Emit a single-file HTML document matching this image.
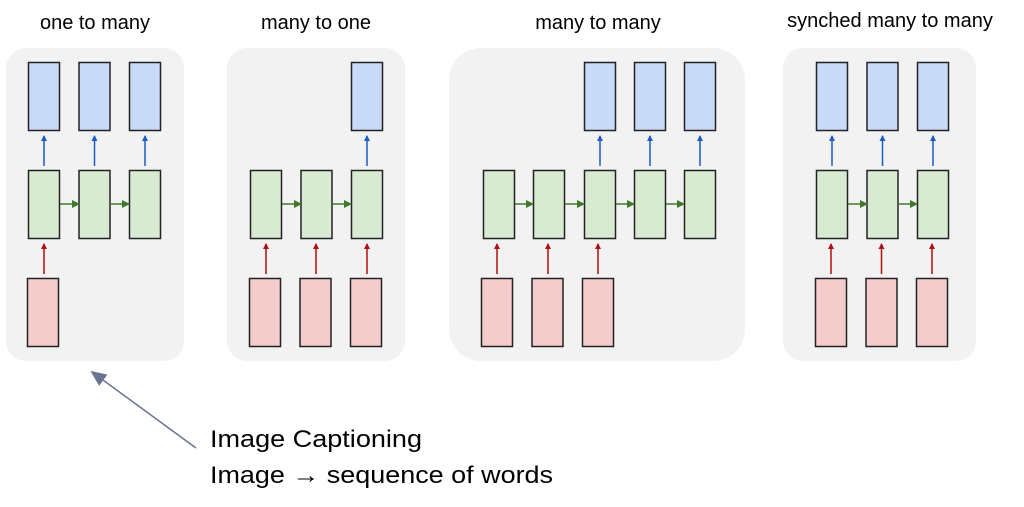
<!DOCTYPE html>
<html><head><meta charset="utf-8"><style>
html,body{margin:0;padding:0;background:#fff;}
svg{display:block;}
</style></head><body>
<svg width="1024" height="507" viewBox="0 0 1024 507" xmlns="http://www.w3.org/2000/svg">
<defs>
<marker id="ab" markerWidth="6" markerHeight="6" refX="5" refY="3" orient="auto" markerUnits="userSpaceOnUse"><path d="M0,0 L6,3 L0,6 z" fill="#1c5bc4"/></marker>
<marker id="ag" markerWidth="8" markerHeight="8" refX="7" refY="4" orient="auto" markerUnits="userSpaceOnUse"><path d="M0,0 L8,4 L0,8 z" fill="#3f7a2a"/></marker>
<marker id="ar" markerWidth="6" markerHeight="6" refX="5" refY="3" orient="auto" markerUnits="userSpaceOnUse"><path d="M0,0 L6,3 L0,6 z" fill="#b01010"/></marker>
<marker id="ap" markerWidth="16" markerHeight="14" refX="14" refY="7" orient="auto" markerUnits="userSpaceOnUse"><path d="M0,0 L16,7 L0,14 z" fill="#6b7394"/></marker>
</defs>
<g font-family="Liberation Sans, sans-serif" font-size="20" fill="#000" text-anchor="middle">
<text x="95" y="29">one to many</text>
<text x="316" y="29">many to one</text>
<text x="598" y="29">many to many</text>
<text x="890" y="27">synched many to many</text>
</g>
<g fill="#f2f2f2">
<rect x="6" y="48" width="178" height="313" rx="20"/>
<rect x="227" y="48" width="178" height="313" rx="20"/>
<rect x="449" y="48" width="296" height="313" rx="32"/>
<rect x="783" y="48" width="193" height="313" rx="20"/>
</g>
<g stroke="#222" stroke-width="1.5">
<!-- panel1 -->
<g fill="#c9daf8"><rect x="28.5" y="62.5" width="31" height="68"/><rect x="79" y="62.5" width="31" height="68"/><rect x="129.5" y="62.5" width="31" height="68"/></g>
<g fill="#d9ead3"><rect x="28.5" y="170.5" width="31" height="68"/><rect x="79" y="170.5" width="31" height="68"/><rect x="129.5" y="170.5" width="31" height="68"/></g>
<g fill="#f4cccc"><rect x="27.5" y="278.5" width="31" height="68"/></g>
<!-- panel2 -->
<g fill="#c9daf8"><rect x="351.5" y="62.5" width="31" height="68"/></g>
<g fill="#d9ead3"><rect x="250.5" y="170.5" width="31" height="68"/><rect x="301" y="170.5" width="31" height="68"/><rect x="351.5" y="170.5" width="31" height="68"/></g>
<g fill="#f4cccc"><rect x="249.5" y="278.5" width="31" height="68"/><rect x="300" y="278.5" width="31" height="68"/><rect x="350.5" y="278.5" width="31" height="68"/></g>
<!-- panel3 -->
<g fill="#c9daf8"><rect x="584.5" y="62.5" width="31" height="68"/><rect x="634.5" y="62.5" width="31" height="68"/><rect x="684.5" y="62.5" width="31" height="68"/></g>
<g fill="#d9ead3"><rect x="483.5" y="170.5" width="31" height="68"/><rect x="533.5" y="170.5" width="31" height="68"/><rect x="584.5" y="170.5" width="31" height="68"/><rect x="634.5" y="170.5" width="31" height="68"/><rect x="684.5" y="170.5" width="31" height="68"/></g>
<g fill="#f4cccc"><rect x="481.5" y="278.5" width="31" height="68"/><rect x="532" y="278.5" width="31" height="68"/><rect x="582.5" y="278.5" width="31" height="68"/></g>
<!-- panel4 -->
<g fill="#c9daf8"><rect x="816.5" y="62.5" width="31" height="68"/><rect x="867" y="62.5" width="31" height="68"/><rect x="917.5" y="62.5" width="31" height="68"/></g>
<g fill="#d9ead3"><rect x="816.5" y="170.5" width="31" height="68"/><rect x="867" y="170.5" width="31" height="68"/><rect x="917.5" y="170.5" width="31" height="68"/></g>
<g fill="#f4cccc"><rect x="815.5" y="278.5" width="31" height="68"/><rect x="866" y="278.5" width="31" height="68"/><rect x="916.5" y="278.5" width="31" height="68"/></g>
</g>
<!-- blue arrows -->
<g stroke="#1c5bc4" stroke-width="1.5" marker-end="url(#ab)">
<line x1="44" y1="166" x2="44" y2="136"/><line x1="94.5" y1="166" x2="94.5" y2="136"/><line x1="145" y1="166" x2="145" y2="136"/>
<line x1="367" y1="166" x2="367" y2="136"/>
<line x1="600" y1="166" x2="600" y2="136"/><line x1="650" y1="166" x2="650" y2="136"/><line x1="700" y1="166" x2="700" y2="136"/>
<line x1="832" y1="166" x2="832" y2="136"/><line x1="882.5" y1="166" x2="882.5" y2="136"/><line x1="933" y1="166" x2="933" y2="136"/>
</g>
<!-- green arrows -->
<g stroke="#3f7a2a" stroke-width="1.5" marker-end="url(#ag)">
<line x1="60" y1="204" x2="79" y2="204"/><line x1="110" y1="204" x2="129" y2="204"/>
<line x1="282" y1="204" x2="301" y2="204"/><line x1="332" y1="204" x2="351" y2="204"/>
<line x1="515" y1="204" x2="533" y2="204"/><line x1="565" y1="204" x2="584" y2="204"/><line x1="616" y1="204" x2="634" y2="204"/><line x1="666" y1="204" x2="684" y2="204"/>
<line x1="848" y1="204" x2="867" y2="204"/><line x1="898" y1="204" x2="917" y2="204"/>
</g>
<!-- red arrows -->
<g stroke="#b01010" stroke-width="1.5" marker-end="url(#ar)">
<line x1="44" y1="274" x2="44" y2="244"/>
<line x1="266" y1="274" x2="266" y2="244"/><line x1="316" y1="274" x2="316" y2="244"/><line x1="367" y1="274" x2="367" y2="244"/>
<line x1="497" y1="274" x2="497" y2="244"/><line x1="548" y1="274" x2="548" y2="244"/><line x1="598" y1="274" x2="598" y2="244"/>
<line x1="831" y1="274" x2="831" y2="244"/><line x1="881.5" y1="274" x2="881.5" y2="244"/><line x1="932" y1="274" x2="932" y2="244"/>
</g>
<line x1="196" y1="448" x2="92" y2="372" stroke="#6b7394" stroke-width="1.5" marker-end="url(#ap)"/>
<g font-family="Liberation Sans, sans-serif" font-size="24" fill="#000">
<text x="210" y="447" textLength="212" lengthAdjust="spacingAndGlyphs">Image Captioning</text>
<text x="210" y="483" textLength="343" lengthAdjust="spacingAndGlyphs">Image → sequence of words</text>
</g>
</svg>
</body></html>
